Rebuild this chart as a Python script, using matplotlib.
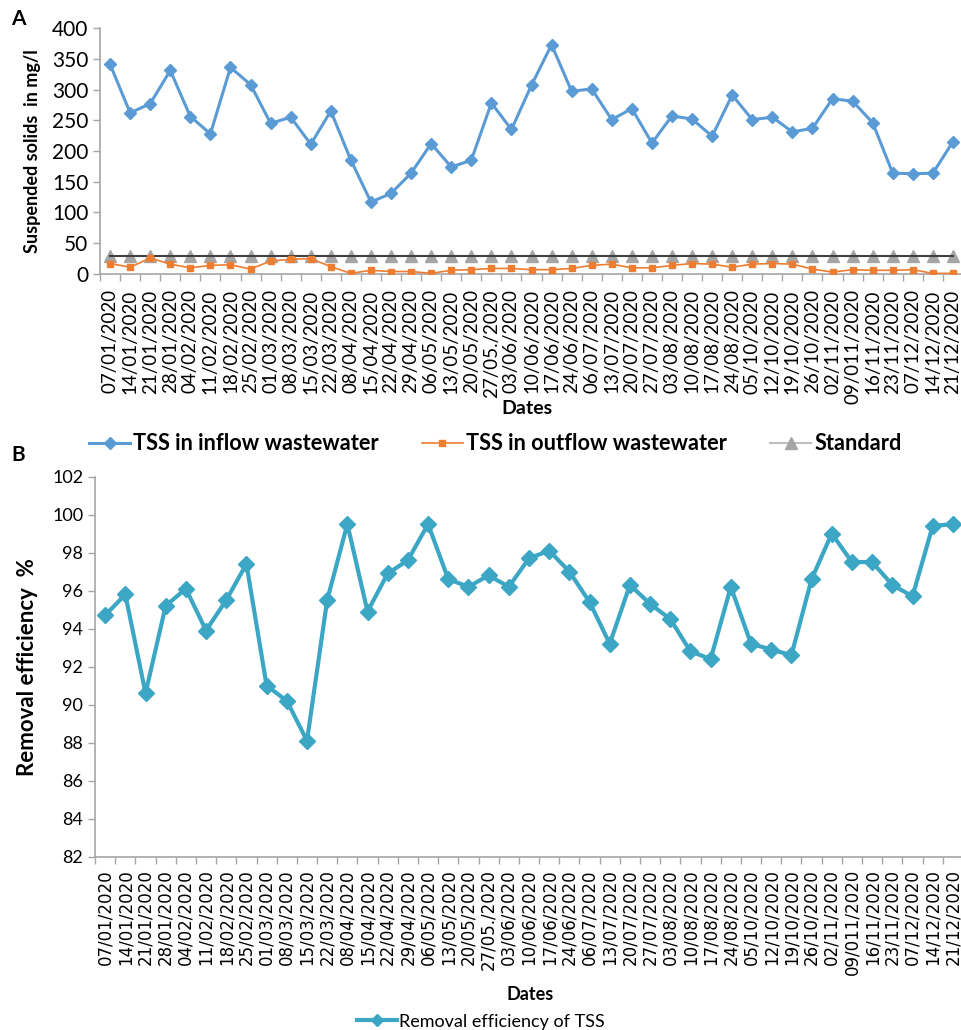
import matplotlib
matplotlib.use("Agg")
import matplotlib.pyplot as plt
import numpy as np

dates = ["07/01/2020", "14/01/2020", "21/01/2020", "28/01/2020", "04/02/2020",
         "11/02/2020", "18/02/2020", "25/02/2020", "01/03/2020", "08/03/2020",
         "15/03/2020", "22/03/2020", "08/04/2020", "15/04/2020", "22/04/2020",
         "29/04/2020", "06/05/2020", "13/05/2020", "20/05/2020", "27/05./2020",
         "03/06/2020", "10/06/2020", "17/06/2020", "24/06/2020", "06/07/2020",
         "13/07/2020", "20/07/2020", "27/07/2020", "03/08/2020", "10/08/2020",
         "17/08/2020", "24/08/2020", "05/10/2020", "12/10/2020", "19/10/2020",
         "26/10/2020", "02/11/2020", "09/011/2020", "16/11/2020", "23/11/2020",
         "07/12/2020", "14/12/2020", "21/12/2020"]

tss_inflow = [341, 262, 277, 331, 256, 228, 336, 308, 245, 255,
              211, 265, 185, 117, 131, 164, 212, 174, 185, 278,
              235, 307, 373, 297, 301, 251, 269, 213, 257, 252,
              224, 291, 251, 255, 231, 237, 285, 281, 246, 164,
              163, 164, 215]

tss_outflow = [17, 11, 26, 16, 10, 14, 15, 8, 21, 24,
               25, 12, 1, 6, 4, 4, 1, 6, 7, 9,
               9, 7, 7, 9, 14, 16, 10, 10, 14, 17,
               16, 11, 16, 17, 16, 8, 3, 7, 6, 6,
               7, 1, 1]

standard = [30] * len(dates)

removal_eff = [94.7, 95.8, 90.6, 95.2, 96.1, 93.9, 95.5, 97.4, 91.0, 90.2,
               88.1, 95.5, 99.5, 94.9, 96.9, 97.6, 99.5, 96.6, 96.2, 96.8,
               96.2, 97.7, 98.1, 97.0, 95.4, 93.2, 96.3, 95.3, 94.5, 92.8,
               92.4, 96.2, 93.2, 92.9, 92.6, 96.6, 99.0, 97.5, 97.5, 96.3,
               95.7, 99.4, 99.5]

CAL = ["Lato", "DejaVu Sans"]
WIDE = ["DejaVu Sans"]
SPINE = "#A6A6A6"

fig = plt.figure(figsize=(9.62, 10.30), dpi=100)
x = np.arange(len(dates))


def style_axes(ax, tick_family, tick_size, pad):
    for s in ("top", "right"):
        ax.spines[s].set_visible(False)
    for s in ("left", "bottom"):
        ax.spines[s].set_color(SPINE)
        ax.spines[s].set_linewidth(1.2)
    ax.set_xlim(-0.5, len(dates) - 0.5)
    ax.set_xticks(x)
    ax.set_xticklabels(dates, rotation=90, family=tick_family, fontsize=tick_size)
    ax.set_xticks(np.arange(-0.5, len(dates)), minor=True)
    ax.tick_params(axis="x", which="major", length=0, pad=pad)
    ax.tick_params(axis="x", which="minor", length=5, color=SPINE, width=1)
    ax.tick_params(axis="y", length=5, color=SPINE, width=1)


# ---- Panel A: suspended solids ----
axA = fig.add_axes([0.104, 0.734, 0.897, 0.2388])
style_axes(axA, CAL, 13.5, 11)
axA.plot(x, tss_inflow, color="#5B9BD5", lw=2.2, marker="D", ms=6.5,
         label="TSS in inflow wastewater", zorder=4)
axA.plot(x, tss_outflow, color="#ED7D31", lw=1.2, marker="s", ms=5,
         label="TSS in outflow wastewater", zorder=3)
axA.plot(x, standard, color="#A5A5A5", lw=1.2, marker="^", ms=8,
         linestyle="none", zorder=2)
axA.plot(x, standard, color="#404040", lw=1.5, zorder=2.5)
axA.plot([], [], color="#BFBFBF", lw=1.5, marker="^", ms=8,
         markerfacecolor="#A5A5A5", markeredgecolor="#A5A5A5", label="Standard")
axA.set_ylim(0, 400)
axA.set_yticks(np.arange(0, 401, 50))
for lab in axA.get_yticklabels():
    lab.set_family(CAL)
    lab.set_fontsize(15)
axA.set_ylabel("Suspended solids  in mg/l", family=CAL, fontsize=13,
               fontweight="bold", labelpad=8)
axA.set_xlabel("Dates", family=CAL, fontsize=14, fontweight="bold", va="center")
axA.xaxis.set_label_coords(0.495, -0.545)
hA, lA = axA.get_legend_handles_labels()
fig.legend(handles=hA, labels=lA, loc="center", bbox_to_anchor=(0.515, 0.569),
           ncol=3, frameon=False,
           prop={"family": CAL, "size": 15.7, "weight": "bold"},
           handlelength=1.85, handletextpad=0.15, columnspacing=2.0)

# ---- Panel B: removal efficiency ----
axB = fig.add_axes([0.0988, 0.1683, 0.9022, 0.369])
style_axes(axB, WIDE, 12, 9)
axB.plot(x, removal_eff, color="#3BA7C4", lw=3, marker="D", ms=8.5,
         label="Removal efficiency of TSS")
axB.set_ylim(82, 102)
axB.set_yticks(np.arange(82, 103, 2))
for lab in axB.get_yticklabels():
    lab.set_family(CAL)
    lab.set_fontsize(13)
axB.set_ylabel("Removal efficiency  %", family=CAL, fontsize=16,
               fontweight="bold", labelpad=10)
axB.set_xlabel("Dates", family=CAL, fontsize=13, fontweight="bold", va="center")
axB.xaxis.set_label_coords(0.501, -0.364)
hB, lB = axB.get_legend_handles_labels()
fig.legend(handles=hB, labels=lB, loc="center", bbox_to_anchor=(0.5, 0.008),
           frameon=False, prop={"family": CAL, "size": 13},
           handlelength=2.2, handletextpad=0.1, markerscale=0.7)

fig.text(0.012, 0.982, "A", family=CAL, fontsize=15, fontweight="bold", va="center")
fig.text(0.012, 0.558, "B", family=CAL, fontsize=15, fontweight="bold", va="center")

fig.savefig("out.png", dpi=100)
